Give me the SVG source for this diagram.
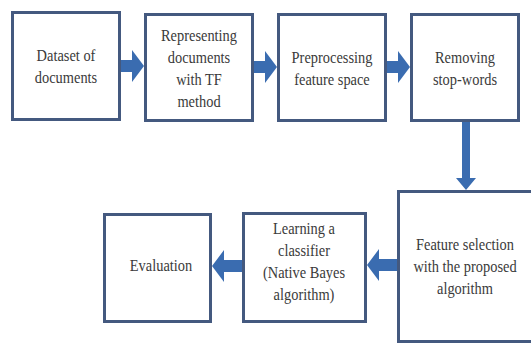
<svg xmlns="http://www.w3.org/2000/svg" width="531" height="345" viewBox="0 0 531 345">
<style>
.box{fill:#fff;stroke:#44597f;stroke-width:3}
.arr{fill:#3a6cb0}
text{font-family:'Liberation Serif',serif;font-size:16px;fill:#3a3a3a;text-anchor:middle}
</style>
<rect width="531" height="345" fill="#fff"/>
<g id="connectors" class="arr">
<path d="M120,60 H132 V50 L144,66 L132,82 V72 H120 Z"/>
<path d="M254,61 H265 V51 L277,67 L265,83 V73 H254 Z"/>
<path d="M387,61 H398 V51 L410,67 L398,83 V73 H387 Z"/>
<path d="M462,122 H470 V178 H476 L466,190 L456,178 H462 Z"/>
<path d="M397,259 H379 V249 L367,265 L379,281 V271 H397 Z"/>
<path d="M242,260 H224 V250 L212,266 L224,282 V272 H242 Z"/>
</g>
<g id="n1">
<rect class="box" x="12.5" y="12.5" width="107" height="107"/>
<g transform="translate(66 0) scale(0.9 1)">
<text x="0" y="61">Dataset of</text>
<text x="0" y="83">documents</text>
</g>
</g>
<g id="n2">
<rect class="box" x="145.5" y="14.5" width="107" height="106"/>
<g transform="translate(199 0) scale(0.9 1)">
<text x="0" y="41">Representing</text>
<text x="0" y="63">documents</text>
<text x="0" y="85">with TF</text>
<text x="0" y="107">method</text>
</g>
</g>
<g id="n3">
<rect class="box" x="278.5" y="14.5" width="107" height="106"/>
<g transform="translate(332 0) scale(0.9 1)">
<text x="0" y="63">Preprocessing</text>
<text x="0" y="85">feature space</text>
</g>
</g>
<g id="n4">
<rect class="box" x="411.5" y="14.5" width="107" height="106"/>
<g transform="translate(465 0) scale(0.9 1)">
<text x="0" y="63">Removing</text>
<text x="0" y="85">stop-words</text>
</g>
</g>
<g id="n5">
<rect class="box" x="398.5" y="191.5" width="140" height="150"/>
<g transform="translate(465 0) scale(0.9 1)">
<text x="0" y="250">Feature selection</text>
<text x="0" y="272">with the proposed</text>
<text x="0" y="294">algorithm</text>
</g>
</g>
<g id="n6">
<rect class="box" x="243.5" y="213.5" width="122" height="108"/>
<g transform="translate(304 0) scale(0.9 1)">
<text x="0" y="234">Learning a</text>
<text x="0" y="256">classifier</text>
<text x="0" y="278">(Native Bayes</text>
<text x="0" y="300">algorithm)</text>
</g>
</g>
<g id="n7">
<rect class="box" x="104.5" y="214.5" width="106" height="107"/>
<g transform="translate(161 0) scale(0.9 1)">
<text x="0" y="271">Evaluation</text>
</g>
</g>
</svg>
